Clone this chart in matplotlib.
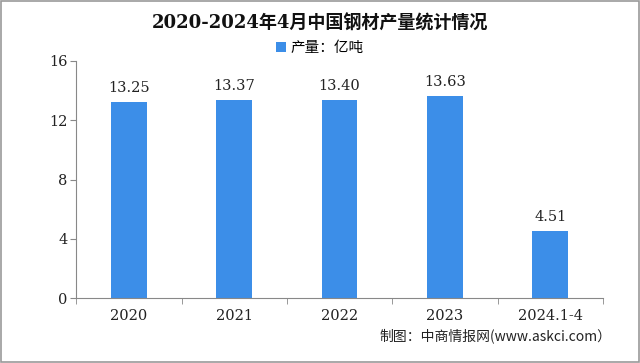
import matplotlib
matplotlib.use("Agg")
import matplotlib.pyplot as plt
from matplotlib.patches import Rectangle

categories = ["2020", "2021", "2022", "2023", "2024.1-4"]
values = [13.25, 13.37, 13.40, 13.63, 4.51]
value_labels = ["13.25", "13.37", "13.40", "13.63", "4.51"]
yticks = [0, 4, 8, 12, 16]

SERIF = ["DejaVu Serif", "Noto Sans CJK SC"]
CJK = ["Noto Sans CJK SC", "DejaVu Sans"]
bar_color = "#3C8EE8"

fig = plt.figure(figsize=(6.4, 3.63), dpi=100)
ax = fig.add_axes([0.119, 0.179, 0.823, 0.653])

x = list(range(len(categories)))
bars = ax.bar(x, values, width=0.34, color=bar_color, label="产量：亿吨", zorder=2)
for xi, v, lab in zip(x, values, value_labels):
    ax.annotate(lab, (xi, v), xytext=(0, 5), textcoords="offset points",
                ha="center", va="bottom", fontsize=10.5, family=SERIF, color="#222222")

ax.set_xlim(-0.5, len(categories) - 0.5)
ax.set_ylim(0, 16)
ax.set_yticks(yticks)
ax.set_yticklabels([str(t) for t in yticks], family=SERIF, fontsize=10.5, color="#222222")
ax.set_xticks(x)
ax.set_xticklabels(categories, family=SERIF, fontsize=10.5, color="#222222")
ax.tick_params(axis="x", length=0, pad=8)
ax.set_xticks([i - 0.5 for i in range(len(categories) + 1)], minor=True)
ax.tick_params(axis="x", which="minor", length=4, color="#888888", direction="out")
ax.tick_params(axis="y", length=4, color="#888888", direction="out", pad=2)
for s in ["top", "right"]:
    ax.spines[s].set_visible(False)
for s in ["left", "bottom"]:
    ax.spines[s].set_color("#888888")
    ax.spines[s].set_linewidth(0.8)

fig.text(0.5, 0.935, "2020-2024年4月中国钢材产量统计情况", ha="center", va="center",
         fontsize=13, fontweight="bold", family=SERIF, color="#111111")
leg = fig.legend(handles=[bars], labels=["产量：亿吨"], loc="center", bbox_to_anchor=(0.5, 0.868),
                 frameon=False, prop={"family": CJK, "size": 10.5}, handlelength=0.7,
                 handleheight=0.7, handletextpad=0.3)
fig.text(0.955, 0.075, "制图：中商情报网(www.askci.com）", ha="right", va="center",
         fontsize=10, family=CJK, color="#222222")

fig.patches.append(Rectangle((0.002, 0.003), 0.996, 0.994, transform=fig.transFigure,
                             fill=False, edgecolor="#999999", linewidth=1.2))

fig.savefig("out.png", dpi=100)
